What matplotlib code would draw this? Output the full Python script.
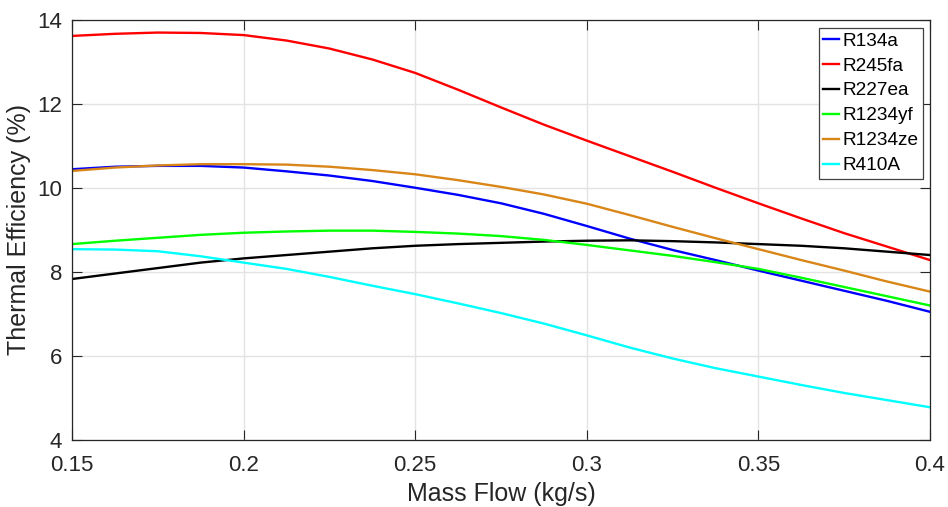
import numpy as np
import matplotlib
matplotlib.use("Agg")
import matplotlib.pyplot as plt

plt.rcParams['font.family'] = ['Liberation Sans', 'DejaVu Sans']

# mass flow points (kg/s)
mass_flow = [0.15, 0.1625, 0.175, 0.1875, 0.2, 0.2125, 0.225, 0.2375, 0.25, 0.2625,
             0.275, 0.2875, 0.3, 0.3125, 0.325, 0.3375, 0.35, 0.3625, 0.375, 0.3875, 0.4]

# thermal efficiency (%) per refrigerant
r134a = [10.44, 10.50, 10.52, 10.52, 10.48, 10.39, 10.29, 10.16, 10.00, 9.83,
         9.63, 9.38, 9.09, 8.79, 8.52, 8.28, 8.03, 7.79, 7.55, 7.31, 7.05]
r245fa = [13.61, 13.66, 13.69, 13.68, 13.63, 13.50, 13.31, 13.05, 12.73, 12.33,
          11.91, 11.50, 11.12, 10.75, 10.38, 10.00, 9.63, 9.27, 8.92, 8.60, 8.28]
r227ea = [7.83, 7.96, 8.09, 8.22, 8.32, 8.40, 8.48, 8.56, 8.62, 8.66,
          8.69, 8.72, 8.74, 8.75, 8.73, 8.70, 8.66, 8.62, 8.56, 8.48, 8.40]
r1234yf = [8.66, 8.74, 8.81, 8.88, 8.93, 8.96, 8.98, 8.98, 8.95, 8.91,
           8.85, 8.76, 8.64, 8.51, 8.38, 8.23, 8.07, 7.86, 7.64, 7.42, 7.20]
r1234ze = [10.40, 10.48, 10.53, 10.56, 10.56, 10.55, 10.50, 10.42, 10.32, 10.18,
           10.02, 9.84, 9.62, 9.35, 9.07, 8.80, 8.54, 8.28, 8.03, 7.77, 7.53]
r410a = [8.54, 8.53, 8.49, 8.37, 8.22, 8.07, 7.88, 7.67, 7.47, 7.25,
         7.02, 6.77, 6.49, 6.20, 5.94, 5.71, 5.51, 5.31, 5.12, 4.95, 4.78]

names = ['R134a', 'R245fa', 'R227ea', 'R1234yf', 'R1234ze', 'R410A']
series = [r134a, r245fa, r227ea, r1234yf, r1234ze, r410a]
colors = ['#0000ff', '#ff0000', '#000000', '#00ff00', '#d98619', '#00ffff']

fig = plt.figure(figsize=(9.48, 5.07), dpi=100)
ax = fig.add_axes([0.076, 0.132, 0.905, 0.8295])

for name, vals, c in zip(names, series, colors):
    ax.plot(mass_flow, vals, color=c, lw=1.7, label=name)

ax.set_xlim(0.15, 0.4)
ax.set_ylim(4, 14)
ax.set_xticks([0.15, 0.2, 0.25, 0.3, 0.35, 0.4])
ax.set_xticklabels(['0.15', '0.2', '0.25', '0.3', '0.35', '0.4'])
ax.set_yticks([4, 6, 8, 10, 12, 14])

ax.grid(True, color='#e3e3e3', lw=1.0)
ax.set_axisbelow(True)
ax.tick_params(direction='in', top=True, right=True, length=7, width=0.8,
               colors='#262626', labelsize=16)
ax.tick_params(axis='x', pad=11)
ax.tick_params(axis='y', pad=7)
for sp in ax.spines.values():
    sp.set_color('#262626')
    sp.set_linewidth(0.9)

ax.set_xlabel('Mass Flow (kg/s)', fontsize=18, color='#262626', labelpad=4)
ax.set_ylabel('Thermal Efficiency (%)', fontsize=18, color='#262626', labelpad=5)

leg = ax.legend(loc='upper right', bbox_to_anchor=(0.992, 0.981), fontsize=13.7,
                handlelength=0.8, handletextpad=0.2, borderpad=0.25,
                labelspacing=0.4, borderaxespad=0, fancybox=False,
                framealpha=1, edgecolor='#404040')
leg.get_frame().set_linewidth(0.9)

fig.savefig('out.png', dpi=100)
